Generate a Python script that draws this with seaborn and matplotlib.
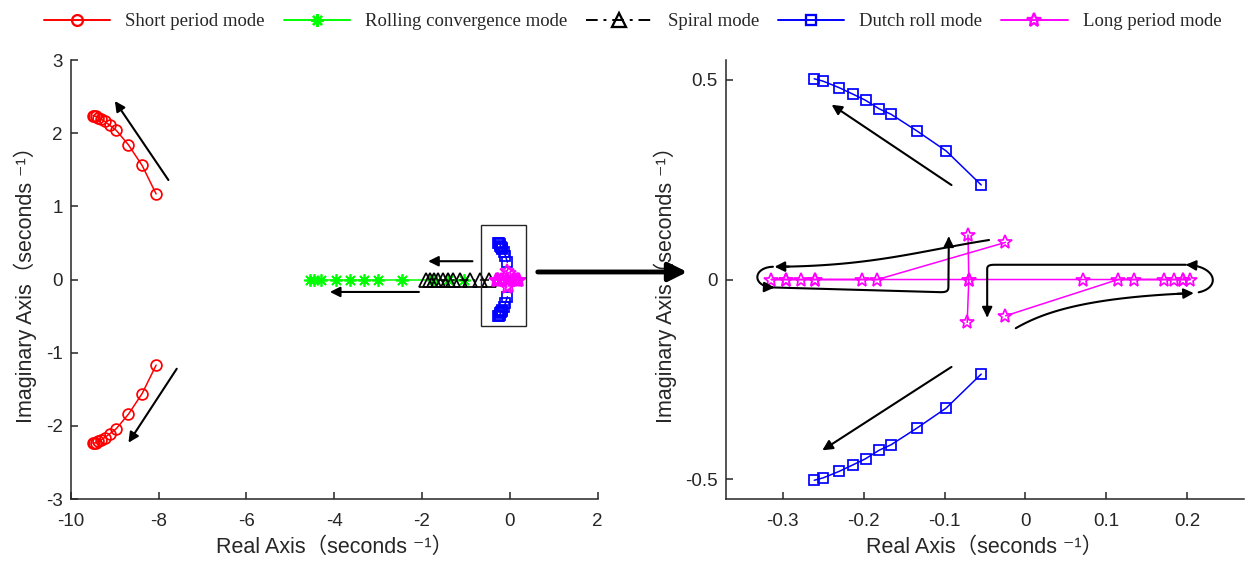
import numpy as np
import pandas as pd
import matplotlib
matplotlib.use("Agg")
import matplotlib.pyplot as plt
import seaborn as sns
from matplotlib.lines import Line2D
from matplotlib.patches import FancyArrowPatch, Rectangle
from matplotlib.font_manager import FontProperties

# ---------------- data ----------------
sp_re = [-8.06, -8.38, -8.69, -8.97, -9.12, -9.23, -9.31, -9.38, -9.43, -9.47, -9.50]
sp_im = [1.17, 1.56, 1.84, 2.04, 2.11, 2.16, 2.19, 2.21, 2.23, 2.235, 2.24]
rc_re = [-1.05, -1.40, -1.75, -2.46, -3.01, -3.33, -3.64, -3.96, -4.30, -4.47, -4.56]
rc_im = [0.0] * 11
sm_re = [-0.48, -0.68, -0.91, -1.14, -1.30, -1.41, -1.53, -1.64, -1.73, -1.82, -1.92]
sm_im = [0.0] * 11
dr_re = [-0.0547, -0.0979, -0.1346, -0.166, -0.181, -0.1975, -0.2127, -0.2305, -0.250, -0.261]
dr_im = [0.237, 0.322, 0.373, 0.414, 0.428, 0.449, 0.464, 0.481, 0.497, 0.503]
lp1_re = [-0.0247, -0.183, -0.2017, -0.2605, -0.277, -0.2955, -0.314, -0.2955, -0.2605, -0.070, -0.071]
lp1_im = [0.093, 0, 0, 0, 0, 0, 0, 0, 0, 0, 0.112]
lp2_re = [-0.0247, 0.1144, 0.1337, 0.1707, 0.183, 0.1947, 0.2037, 0.1947, 0.0712, -0.070, -0.072]
lp2_im = [-0.091, 0, 0, 0, 0, 0, 0, 0, 0, 0, -0.1075]

mode_labels = ["Short period mode", "Rolling convergence mode", "Spiral mode",
               "Dutch roll mode", "Long period mode"]
left_xticks = [-10, -8, -6, -4, -2, 0, 2]
left_yticks = [-3, -2, -1, 0, 1, 2, 3]
right_xticks = [-0.3, -0.2, -0.1, 0, 0.1, 0.2]
right_xticklabels = ["-0.3", "-0.2", "-0.1", "0", "0.1", "0.2"]
right_yticks = [-0.5, 0, 0.5]
right_yticklabels = ["-0.5", "0", "0.5"]
xlabel_text = "Real Axis（seconds ⁻¹）"
ylabel_text = "Imaginary Axis（seconds ⁻¹）"

# ---------------- tables ----------------
def conj_df(re, im):
    n = len(re)
    return pd.DataFrame({"re": list(re) + list(re),
                         "im": list(im) + [-v for v in im],
                         "branch": [0] * n + [1] * n})

sp_df = conj_df(sp_re, sp_im)
dr_df = conj_df(dr_re, dr_im)
rc_df = pd.DataFrame({"re": rc_re, "im": rc_im, "branch": 0})
sm_df = pd.DataFrame({"re": sm_re, "im": sm_im, "branch": 0})
lp_df = pd.DataFrame({"re": lp1_re + lp2_re, "im": lp1_im + lp2_im,
                      "branch": [0] * len(lp1_re) + [1] * len(lp2_re)})

# ---------------- style ----------------
sns.set_style("ticks")
DARK = "#262626"
plt.rcParams["font.family"] = ["Liberation Sans", "DejaVu Sans", "Noto Sans CJK SC"]
plt.rcParams["axes.unicode_minus"] = False
plt.rcParams["axes.edgecolor"] = DARK
plt.rcParams["axes.linewidth"] = 1.1
plt.rcParams["xtick.color"] = DARK
plt.rcParams["ytick.color"] = DARK
plt.rcParams["axes.labelcolor"] = DARK

RED, GREEN, BLUE, MAG = "#ff0000", "#00ff00", "#0000ff", "#ff00ff"
LW, MEW = 1.1, 1.25

styles = [
    (sp_df, RED, "o", 7.8, "-"),
    (rc_df, GREEN, (8, 2, 0), 9, "-"),
    (sm_df, "black", "^", 9.5, (0, (6, 3, 1.5, 3))),
    (dr_df, BLUE, "s", 7, "-"),
    (lp_df, MAG, "*", 10, "-"),
]

fig = plt.figure(figsize=(12.5, 5.69), dpi=100)
axL = fig.add_axes([0.0568, 0.123, 0.4212, 0.7715])
axR = fig.add_axes([0.5808, 0.123, 0.4144, 0.7715])


def draw_modes(ax):
    for df, c, m, ms, ls in styles:
        sns.lineplot(data=df, x="re", y="im", units="branch", estimator=None,
                     sort=False, color=c, marker=m, markersize=ms,
                     markerfacecolor="none", markeredgecolor=c,
                     markeredgewidth=MEW, linewidth=LW, linestyle=ls,
                     legend=False, ax=ax)


draw_modes(axL)
draw_modes(axR)

for ax in (axL, axR):
    sns.despine(ax=ax)
    ax.tick_params(direction="in", length=5, width=1.1, labelsize=13.5,
                   colors=DARK)
    ax.tick_params(axis="x", pad=10)
    ax.tick_params(axis="y", pad=6)
    ax.set_xlabel(xlabel_text, fontsize=15.5, labelpad=5)
    ax.set_ylabel(ylabel_text, fontsize=15.5, labelpad=6)

axL.set_xlim(-10, 2)
axL.set_ylim(-3, 3)
axL.set_xticks(left_xticks)
axL.set_yticks(left_yticks)

axR.set_xlim(-0.37, 0.27)
axR.set_ylim(-0.55, 0.55)
axR.set_xticks(right_xticks)
axR.set_xticklabels(right_xticklabels)
axR.set_yticks(right_yticks)
axR.set_yticklabels(right_yticklabels)

# ---------------- annotations ----------------
AKW = dict(arrowstyle="-|>", color="black", lw=1.5, mutation_scale=15,
           shrinkA=0, shrinkB=0)


def arrow(ax, start, end):
    ax.annotate("", xy=end, xytext=start, arrowprops=AKW)


# left plot arrows
arrow(axL, (-7.78, 1.36), (-9.0, 2.44))
arrow(axL, (-7.59, -1.22), (-8.69, -2.23))
arrow(axL, (-0.85, 0.25), (-1.86, 0.25))
arrow(axL, (-2.07, -0.17), (-4.10, -0.17))
axL.add_patch(Rectangle((-0.66, -0.64), 1.03, 1.38, fill=False,
                        edgecolor=DARK, lw=1.0, zorder=5))

# right plot: Dutch roll arrows
arrow(axR, (-0.0914, 0.2367), (-0.2395, 0.438))
arrow(axR, (-0.0914, -0.219), (-0.251, -0.428))


def bez(p0, p1, p2, p3, n=60):
    t = np.linspace(0, 1, n)[:, None]
    p0, p1, p2, p3 = map(np.asarray, (p0, p1, p2, p3))
    return ((1 - t) ** 3) * p0 + 3 * ((1 - t) ** 2) * t * p1 + \
        3 * (1 - t) * t ** 2 * p2 + t ** 3 * p3


def path_arrow(ax, pts):
    pts = np.asarray(pts)
    ax.plot(pts[:-1, 0], pts[:-1, 1], color="black", lw=1.5, zorder=6,
            solid_capstyle="round")
    arrow(ax, tuple(pts[-4]), tuple(pts[-1]))


# long-period arrows (left group)
path_arrow(axR, bez((-0.045, 0.099), (-0.13, 0.072), (-0.19, 0.033), (-0.31, 0.032)))
path_arrow(axR, bez((-0.312, 0.032), (-0.338, 0.03), (-0.338, -0.02), (-0.310, -0.02)))
lower_left = np.vstack([np.linspace([-0.31, -0.02], [-0.105, -0.0317], 30),
                        bez((-0.105, -0.0317), (-0.097, -0.032), (-0.0952, -0.028), (-0.0952, -0.018), 10),
                        np.linspace([-0.0952, -0.018], [-0.0947, 0.108], 30)])
path_arrow(axR, lower_left)

# long-period arrows (right group)
path_arrow(axR, bez((-0.012, -0.122), (0.02, -0.085), (0.07, -0.045), (0.208, -0.034)))
path_arrow(axR, bez((0.214, -0.032), (0.242, -0.02), (0.236, 0.035), (0.198, 0.037)))
upper_right = np.vstack([np.linspace([0.198, 0.037], [-0.038, 0.037], 30),
                         bez((-0.038, 0.037), (-0.046, 0.037), (-0.0473, 0.033), (-0.0473, 0.026), 10),
                         np.linspace([-0.0473, 0.026], [-0.0473, -0.095], 30)])
path_arrow(axR, upper_right)

# big arrow between panels
fig.add_artist(FancyArrowPatch((0.428, 0.522), (0.552, 0.522),
                               transform=fig.transFigure, arrowstyle="-|>",
                               mutation_scale=28, lw=3.5, color="black"))

# ---------------- legend ----------------
handles = []
for (df, c, m, ms, ls), lab in zip(styles, mode_labels):
    handles.append(Line2D([], [], color=c, marker=m, markersize=ms,
                          markerfacecolor="none", markeredgecolor=c,
                          markeredgewidth=MEW + 0.4, linewidth=LW + 0.3,
                          linestyle=ls, label=lab))
fig.legend(handles=handles, loc="upper center", bbox_to_anchor=(0.506, 1.0),
           ncol=5, frameon=False, prop=FontProperties(family="Liberation Serif", size=13.5),
           handlelength=3.55, handletextpad=0.8, columnspacing=1.0,
           borderaxespad=0.3)

fig.savefig("out.png", dpi=100)
